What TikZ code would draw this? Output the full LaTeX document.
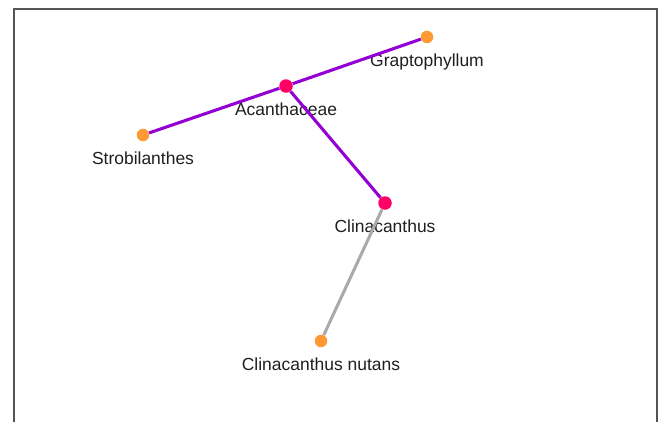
\documentclass[tikz,border=0pt]{standalone}
\usepackage{fontspec}
\setmainfont{Liberation Sans}

\definecolor{branch}{HTML}{9400D3}
\definecolor{twig}{HTML}{AAAAAA}
\definecolor{inner}{HTML}{FF0066}
\definecolor{leafc}{HTML}{FF9933}
\definecolor{frame}{HTML}{555555}

\tikzset{
	taxon/.style={circle, fill=inner, inner sep=0pt, minimum size=13.5*0.75pt},
	leaf/.style={circle, fill=leafc, inner sep=0pt, minimum size=12.5*0.75pt},
	taxonlabel/.style={anchor=base, inner sep=0pt, text=black!88,
			font=\fontsize{13.1}{15}\selectfont},
	branchline/.style={line width=2.3pt, branch},
	twigline/.style={line width=2.3pt, twig}
}

\begin{document}
\begin{tikzpicture}[x=0.75pt, y=-0.75pt]
		\useasboundingbox (0, 0) rectangle (662, 422);
		\draw[frame, line width=1pt] (14, 422) -- (14, 9) -- (657, 9) -- (657, 422);

		% labels
		\node[taxonlabel] (graptoLbl) at (427, 66) {Graptophyllum};
		\node[taxonlabel] (acanLbl) at (286, 115) {Acanthaceae};
		\node[taxonlabel] (stroLbl) at (143, 164) {Strobilanthes};
		\node[taxonlabel] (clinaLbl) at (385, 232) {Clinacanthus};
		\node[taxonlabel] (nutansLbl) at (321, 370) {Clinacanthus nutans};

		% points
		\node[taxon] (acan) at (286, 86) {};
		\node[taxon] (clina) at (385, 203) {};
		\node[leaf] (grapto) at (427, 37) {};
		\node[leaf] (stro) at (143, 135) {};
		\node[leaf] (nutans) at (321, 341) {};

		\draw[branchline] (acan) -- (grapto);
		\draw[branchline] (acan) -- (stro);
		\draw[branchline] (acan) -- (clina);
		\draw[twigline] (clina) -- (nutans);
	\end{tikzpicture}
\end{document}
